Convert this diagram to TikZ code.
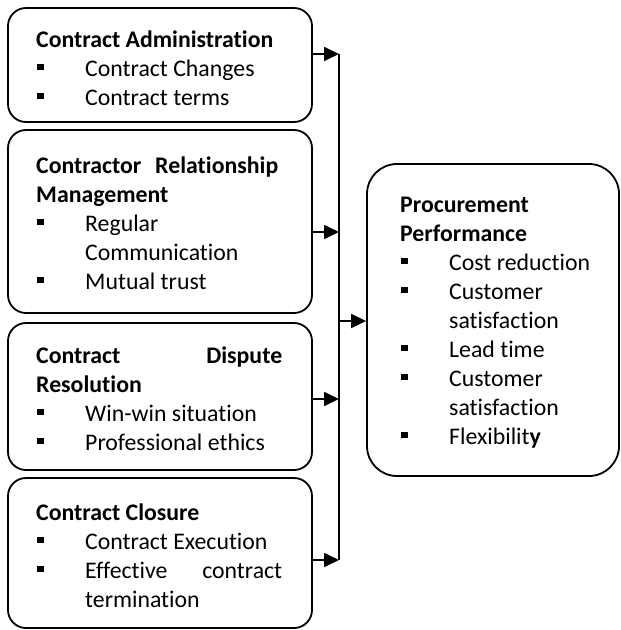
\documentclass[tikz,border=0pt]{standalone}
\usepackage{fontspec}
\setmainfont{Carlito}[Ligatures={NoCommon,NoContextual}]
\usetikzlibrary{arrows.meta}
\newcommand{\blt}{\makebox[49pt][l]{\hspace{1pt}\rule[6pt]{6.5pt}{6.5pt}}}
\newcommand{\itm}[1]{\blt#1}
\newcommand{\cont}{\hspace*{49pt}}
\newcommand{\txtfont}{\fontsize{23.8}{29}\selectfont}

\begin{document}
\begin{tikzpicture}[x=1pt,y=-1pt]
\tikzset{block/.style = {draw, rounded corners=18pt, line width=1.8pt, inner sep=0pt}}
\tikzset{edge/.style = {-{Triangle[length=15pt,width=14pt]}, line width=1.8pt}}
\tikzset{txt/.style = {anchor=base west, inner sep=0pt}}
\useasboundingbox (0,0) rectangle (621,630);
% boxes
\node[block, minimum width=304pt, minimum height=114pt] (adm) at (160,65) {};
\node[block, minimum width=304pt, minimum height=183pt] (rel) at (160,221.5) {};
\node[block, minimum width=304pt, minimum height=147pt] (dis) at (160,396.5) {};
\node[block, minimum width=304pt, minimum height=150pt] (clo) at (160,553) {};
\node[block, rounded corners=30pt, minimum width=252pt, minimum height=312pt] (perf) at (493,320) {};
% texts
\node[txt] (adm-t) at (36,47) {\parbox[t]{250pt}{\txtfont
  \textbf{Contract Administration}\\
  \itm{Contract Changes}\\
  \itm{Contract terms}}};
\node[txt] (rel-t) at (36,173) {\parbox[t]{250pt}{\txtfont
  \makebox[242pt][s]{\textbf{Contractor Relationship}}\\
  \textbf{Management}\\
  \itm{Regular}\\
  \cont Communication\\
  \itm{Mutual trust}}};
\node[txt] (dis-t) at (36,363) {\parbox[t]{250pt}{\txtfont
  \makebox[246pt][s]{\textbf{Contract Dispute}}\\
  \textbf{Resolution}\\
  \itm{Win-win situation}\\
  \itm{Professional ethics}}};
\node[txt] (clo-t) at (36,520) {\parbox[t]{250pt}{\txtfont
  \textbf{Contract Closure}\\
  \itm{Contract Execution}\\
  \itm{\makebox[197pt][s]{Effective contract}}\\
  \cont termination}};
\node[txt] (perf-t) at (400,212) {\parbox[t]{215pt}{\txtfont
  \textbf{Procurement}\\
  \textbf{Performance}\\
  \itm{Cost reduction}\\
  \itm{Customer}\\
  \cont satisfaction\\
  \itm{Lead time}\\
  \itm{Customer}\\
  \cont satisfaction\\
  \itm{Flexibilit\textbf{y}}}};
% edges
\coordinate (ja) at (339,54);
\coordinate (jb) at (339,232);
\coordinate (jc) at (339,399);
\coordinate (jd) at (339,560);
\coordinate (jp) at (339,321);
\draw[edge] (adm.east |- ja) -- (ja);
\draw[edge] (rel.east |- jb) -- (jb);
\draw[edge] (dis.east |- jc) -- (jc);
\draw[edge] (clo.east |- jd) -- (jd);
\draw[line width=1.8pt] (ja) -- (jd);
\draw[edge] (jp) -- (perf.west |- jp);
\end{tikzpicture}
\end{document}
